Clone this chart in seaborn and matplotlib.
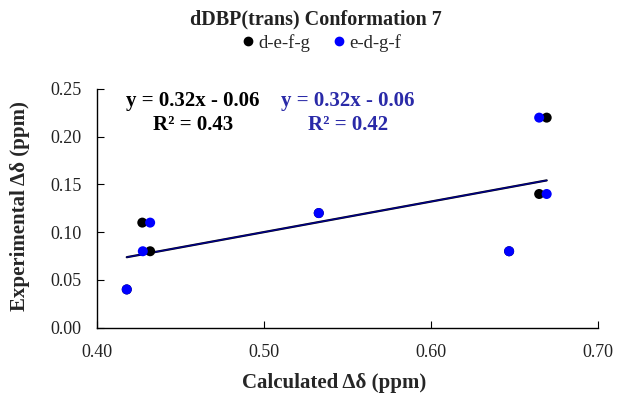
import matplotlib
matplotlib.use("Agg")
import matplotlib.pyplot as plt
from matplotlib.lines import Line2D
import numpy as np
import pandas as pd
import seaborn as sns

# Calculated vs experimental shift differences for two assignments
series_names = ["d-e-f-g", "e-d-g-f"]
calc_defg = [0.418, 0.4273, 0.432, 0.533, 0.647, 0.665, 0.6695]
exp_defg = [0.04, 0.11, 0.08, 0.12, 0.08, 0.14, 0.22]
calc_edgf = [0.418, 0.432, 0.4276, 0.533, 0.647, 0.6695, 0.665]
exp_edgf = [0.04, 0.11, 0.08, 0.12, 0.08, 0.14, 0.22]

# Linear trendlines (slope, intercept, R²) for each assignment
fit_slope = [0.32, 0.32]
fit_intercept = [-0.06, -0.06]
fit_r2 = [0.43, 0.42]

x_ticks = [0.40, 0.50, 0.60, 0.70]
y_ticks = [0.00, 0.05, 0.10, 0.15, 0.20, 0.25]

colors = ["#000000", "#0000ff"]
text_colors = ["#000000", "#2a2aa8"]

df = pd.DataFrame({
    "calc": calc_defg + calc_edgf,
    "exp": exp_defg + exp_edgf,
    "series": [series_names[0]] * len(calc_defg) + [series_names[1]] * len(calc_edgf),
})

sns.set_theme(style="white")
plt.rcParams["font.family"] = ["Liberation Serif", "DejaVu Serif"]

fig = plt.figure(figsize=(6.18, 4.0), dpi=100)
ax = fig.add_axes([0.1565, 0.181, 0.8105, 0.5965])

sns.scatterplot(data=df, x="calc", y="exp", hue="series", hue_order=series_names,
                palette=colors, s=52, edgecolor="none", legend=False, ax=ax, zorder=3)

# Trendlines drawn from the stated equations
for i, xs in enumerate([calc_defg, calc_edgf]):
    xr = np.array([min(xs), max(xs)])
    lw = 1.6 if i == 0 else 1.0
    ax.plot(xr, fit_slope[i] * xr + fit_intercept[i], color=colors[i], lw=lw,
            alpha=1.0 if i == 0 else 0.55, zorder=2)

ax.set_xlim(x_ticks[0], x_ticks[-1])
ax.set_ylim(y_ticks[0], y_ticks[-1])
ax.set_xticks(x_ticks)
ax.set_yticks(y_ticks)
ax.set_xticklabels([f"{v:.2f}" for v in x_ticks])
ax.set_yticklabels([f"{v:.2f}" for v in y_ticks])
ax.tick_params(direction="in", length=5, width=0.8, colors="#000000",
               labelsize=13, labelcolor="#222222", left=True, bottom=True)
ax.tick_params(axis="x", pad=12)
ax.tick_params(axis="y", pad=11)
for side in ["top", "right"]:
    ax.spines[side].set_visible(False)
for side in ["left", "bottom"]:
    ax.spines[side].set_color("#000000")
    ax.spines[side].set_linewidth(1.0)

ax.set_xlabel("")
ax.set_ylabel("")
fig.text(20 / 618, 1 - 206 / 400, "Experimental Δδ (ppm)", ha="center", va="center",
         rotation=90, fontsize=15, fontweight="bold")
fig.text(334 / 618, 1 - 383 / 400, "Calculated Δδ (ppm)", ha="center", va="center",
         fontsize=15, fontweight="bold")

# Trendline equations
eq_x = [193, 348]
for i in range(2):
    sign = "-" if fit_intercept[i] < 0 else "+"
    fig.text(eq_x[i] / 618, 1 - 101 / 400,
             f"y = {fit_slope[i]:.2f}x {sign} {abs(fit_intercept[i]):.2f}",
             ha="center", va="center", fontsize=15, fontweight="bold", color=text_colors[i])
    fig.text(eq_x[i] / 618, 1 - 125 / 400, f"R² = {fit_r2[i]:.2f}",
             ha="center", va="center", fontsize=15, fontweight="bold", color=text_colors[i])

fig.text(316 / 618, 1 - 19 / 400, "dDBP(trans) Conformation 7", ha="center", va="center",
         fontsize=14.5, fontweight="bold", color="#222222")

handles = [Line2D([], [], marker="o", ls="none", color=c, markersize=6) for c in colors]
fig.legend(handles, series_names, loc="center", bbox_to_anchor=(320 / 618, 1 - 43 / 400),
           ncol=2, frameon=False, fontsize=13.5, handletextpad=0.05, columnspacing=1.0,
           handlelength=1.0)

fig.savefig("out.png", dpi=100)
